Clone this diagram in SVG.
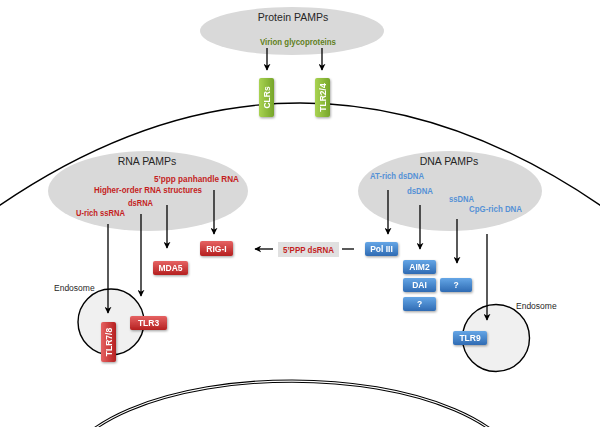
<svg xmlns="http://www.w3.org/2000/svg" width="600" height="427" viewBox="0 0 600 427">
<style>
.bg{fill:#ffffff}
.pamp{fill:#d9d9d9;stroke:none}
.title{font-family:"Liberation Sans",Arial,sans-serif;font-size:10.5px;fill:#262626;text-anchor:middle}
.lab{font-family:"Liberation Sans",Arial,sans-serif;font-size:9px;font-weight:bold}
.red{fill:#c41e1e}
.blue{fill:#5591d6}
.green{fill:#5f7f22}
.box{font-family:"Liberation Sans",Arial,sans-serif;font-size:8.5px;font-weight:bold;fill:#ffffff;text-anchor:middle}
.small{font-family:"Liberation Sans",Arial,sans-serif;font-size:8.5px;fill:#262626}
.conn line,.conn path{stroke:#000;stroke-width:1.3;fill:none}
.arr{marker-end:url(#ah)}
.endo{fill:#f0f0f0;stroke:#000;stroke-width:1.4}
.membrane{fill:none;stroke:#000;stroke-width:1.4}
</style>
<defs>
<marker id="ah" viewBox="0 0 10 10" refX="9" refY="5" markerWidth="7" markerHeight="7" markerUnits="userSpaceOnUse" orient="auto">
<path d="M0,0 L10,5 L0,10 L3,5 z" fill="#000"/>
</marker>
<linearGradient id="gRed" x1="0" y1="0" x2="0" y2="1"><stop offset="0" stop-color="#e66363"/><stop offset="1" stop-color="#b51f1f"/></linearGradient>
<linearGradient id="gRedV" x1="0" y1="0" x2="1" y2="0"><stop offset="0" stop-color="#e66363"/><stop offset="1" stop-color="#b51f1f"/></linearGradient>
<linearGradient id="gBlue" x1="0" y1="0" x2="0" y2="1"><stop offset="0" stop-color="#65a6e6"/><stop offset="1" stop-color="#2e6bb3"/></linearGradient>
<linearGradient id="gGreenV" x1="0" y1="0" x2="1" y2="0"><stop offset="0" stop-color="#a9d352"/><stop offset="1" stop-color="#76a52a"/></linearGradient>
<filter id="sh" x="-20%" y="-20%" width="150%" height="160%"><feDropShadow dx="0.8" dy="1.2" stdDeviation="0.8" flood-color="#000" flood-opacity="0.35"/></filter>
</defs>
<rect class="bg" x="0" y="0" width="600" height="427"/>

<!-- membranes -->
<path class="membrane" d="M-10,212 Q300,-6 610,212"/>
<g id="nucleus">
<path d="M62,479 A230,98 0 0 1 522,479" fill="none" stroke="#000" stroke-width="3.2"/>
<path d="M62,479 A230,98 0 0 1 522,479" fill="none" stroke="#fff" stroke-width="1.2"/>
</g>

<!-- PAMP clouds -->
<g id="protein-pamps">
<ellipse class="pamp" cx="292" cy="31" rx="92" ry="24"/>
<text class="title" x="293" y="21">Protein PAMPs</text>
<text class="lab green" x="260" y="45" textLength="76" lengthAdjust="spacingAndGlyphs">Virion glycoproteins</text>
</g>
<g id="rna-pamps">
<ellipse class="pamp" cx="148" cy="191" rx="100" ry="40"/>
<text class="title" x="147" y="165">RNA PAMPs</text>
<text class="lab red" x="154" y="182" textLength="85" lengthAdjust="spacingAndGlyphs">5’ppp  panhandle RNA</text>
<text class="lab red" x="94" y="193" textLength="108" lengthAdjust="spacingAndGlyphs">Higher-order RNA structures</text>
<text class="lab red" x="128" y="206" textLength="25" lengthAdjust="spacingAndGlyphs">dsRNA</text>
<text class="lab red" x="76" y="216" textLength="49" lengthAdjust="spacingAndGlyphs">U-rich ssRNA</text>
</g>
<g id="dna-pamps">
<ellipse class="pamp" cx="450" cy="191" rx="92" ry="40"/>
<text class="title" x="449" y="165">DNA PAMPs</text>
<text class="lab blue" x="370" y="179" textLength="54" lengthAdjust="spacingAndGlyphs">AT-rich dsDNA</text>
<text class="lab blue" x="407" y="194" textLength="26" lengthAdjust="spacingAndGlyphs">dsDNA</text>
<text class="lab blue" x="449" y="202" textLength="25" lengthAdjust="spacingAndGlyphs">ssDNA</text>
<text class="lab blue" x="469" y="212" textLength="53" lengthAdjust="spacingAndGlyphs">CpG-rich DNA</text>
</g>

<!-- endosomes -->
<g id="endosome-left">
<circle class="endo" cx="111" cy="322" r="33"/>
<text class="small" x="54" y="291">Endosome</text>
</g>
<g id="endosome-right">
<circle class="endo" cx="496" cy="338" r="33.5"/>
<text class="small" x="516" y="309">Endosome</text>
</g>

<!-- connectors -->
<g class="conn" id="connectors">
<line class="arr" x1="267" y1="48" x2="267" y2="70"/>
<line class="arr" x1="322" y1="48" x2="322" y2="70"/>
<line class="arr" x1="214" y1="190" x2="214" y2="234"/>
<line class="arr" x1="167" y1="205" x2="167" y2="248"/>
<line class="arr" x1="141" y1="214" x2="141" y2="296"/>
<line class="arr" x1="108" y1="224" x2="108" y2="313"/>
<line class="arr" x1="273" y1="249" x2="255" y2="249"/>
<line x1="342" y1="249" x2="354" y2="249"/>
<line class="arr" x1="388" y1="190" x2="388" y2="234"/>
<line class="arr" x1="420" y1="205" x2="420" y2="249"/>
<line class="arr" x1="457" y1="219" x2="457" y2="263"/>
<line class="arr" x1="487" y1="234" x2="487" y2="320"/>
</g>

<!-- intermediate -->
<g id="ppp-dsrna">
<rect x="278" y="242" width="61" height="15" fill="#e0e0e0"/>
<text class="lab red" x="283" y="252.5" textLength="51" lengthAdjust="spacingAndGlyphs">5’PPP dsRNA</text>
</g>

<!-- receptors -->
<g id="clrs" filter="url(#sh)">
<rect x="259" y="78" width="15" height="39" rx="2" fill="url(#gGreenV)"/>
<text class="box" transform="translate(269.5,97.5) rotate(-90)">CLRs</text>
</g>
<g id="tlr2-4" filter="url(#sh)">
<rect x="315" y="78" width="15" height="39" rx="2" fill="url(#gGreenV)"/>
<text class="box" transform="translate(325.5,97.5) rotate(-90)">TLR2/4</text>
</g>
<g id="rig-i" filter="url(#sh)">
<rect x="200" y="241" width="33" height="15" rx="2" fill="url(#gRed)"/>
<text class="box" x="216.5" y="251.5">RIG-I</text>
</g>
<g id="mda5" filter="url(#sh)">
<rect x="153" y="261" width="35" height="14" rx="2" fill="url(#gRed)"/>
<text class="box" x="170.5" y="271">MDA5</text>
</g>
<g id="tlr3" filter="url(#sh)">
<rect x="130" y="316" width="37" height="14" rx="2" fill="url(#gRed)"/>
<text class="box" x="148.5" y="326">TLR3</text>
</g>
<g id="tlr7-8" filter="url(#sh)">
<rect x="101" y="322" width="15" height="40" rx="2" fill="url(#gRedV)"/>
<text class="box" transform="translate(111.5,342) rotate(-90)">TLR7/8</text>
</g>
<g id="pol-iii" filter="url(#sh)">
<rect x="365" y="242" width="33" height="14" rx="2" fill="url(#gBlue)"/>
<text class="box" x="381.5" y="252">Pol III</text>
</g>
<g id="aim2" filter="url(#sh)">
<rect x="403" y="260" width="33" height="14" rx="2" fill="url(#gBlue)"/>
<text class="box" x="419.5" y="270">AIM2</text>
</g>
<g id="dai" filter="url(#sh)">
<rect x="403" y="278" width="33" height="14" rx="2" fill="url(#gBlue)"/>
<text class="box" x="419.5" y="288">DAI</text>
</g>
<g id="unknown-1" filter="url(#sh)">
<rect x="440" y="278" width="32" height="14" rx="2" fill="url(#gBlue)"/>
<text class="box" x="456" y="288">?</text>
</g>
<g id="unknown-2" filter="url(#sh)">
<rect x="403" y="297" width="33" height="14" rx="2" fill="url(#gBlue)"/>
<text class="box" x="419.5" y="307">?</text>
</g>
<g id="tlr9" filter="url(#sh)">
<rect x="453" y="331" width="34" height="14" rx="2" fill="url(#gBlue)"/>
<text class="box" x="470" y="341">TLR9</text>
</g>
</svg>
